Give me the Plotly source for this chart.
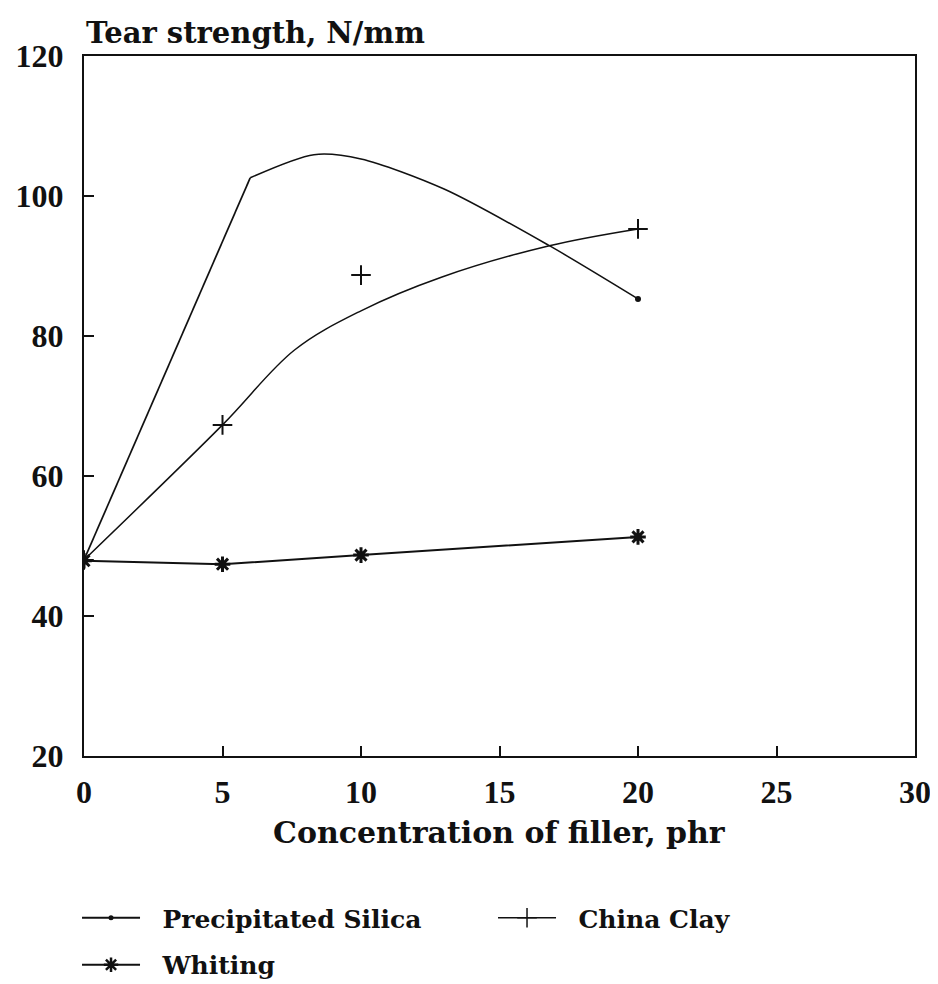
import plotly.graph_objects as go

# Precipitated silica curve (knots)
silica_x = [0, 6.0, 8.3, 10, 13, 16.8, 20]
silica_y = [48.0, 102.6, 105.9, 105.3, 101.0, 92.9, 85.3]
silica_pts_x = [0, 20]
silica_pts_y = [48.0, 85.3]

# China clay measured points and fitted curve
clay_x = [0, 5, 10, 20]
clay_y = [48.0, 67.3, 88.7, 95.3]
clay_fit_x = [0, 5, 7.6, 10, 12.9, 16.8, 20]
clay_fit_y = [48.0, 67.3, 78.0, 83.6, 88.4, 92.9, 95.3]

# Whiting
whiting_x = [0, 5, 10, 20]
whiting_y = [47.9, 47.4, 48.7, 51.3]

FONT = "DejaVu Serif"
TICK_FONT = "Liberation Serif"
BLACK = "#111111"
PAD = "\u00a0\u00a0"  # small gap between legend symbol and label

fig = go.Figure()

# straight rise, then the smooth part of the silica curve
fig.add_trace(go.Scatter(
    x=silica_x[:2], y=silica_y[:2], mode='lines',
    line=dict(color=BLACK, width=1.7),
    showlegend=False, hoverinfo='skip'
))
fig.add_trace(go.Scatter(
    x=silica_x[1:], y=silica_y[1:], mode='lines',
    line=dict(color=BLACK, width=1.5, shape='spline', smoothing=0.8),
    showlegend=False, hoverinfo='skip'
))
fig.add_trace(go.Scatter(
    x=silica_pts_x, y=silica_pts_y, mode='markers',
    marker=dict(color=BLACK, size=6, symbol='circle'),
    showlegend=False
))
fig.add_trace(go.Scatter(
    x=clay_fit_x, y=clay_fit_y, mode='lines',
    line=dict(color=BLACK, width=1.5, shape='spline', smoothing=1.0),
    showlegend=False, hoverinfo='skip'
))
fig.add_trace(go.Scatter(
    x=clay_x, y=clay_y, mode='markers',
    marker=dict(color=BLACK, size=14, symbol='cross-thin-open',
                line=dict(color=BLACK, width=2)),
    showlegend=False
))
fig.add_trace(go.Scatter(
    x=whiting_x, y=whiting_y, mode='lines+markers',
    line=dict(color=BLACK, width=2),
    marker=dict(color=BLACK, size=13, symbol='asterisk-open',
                line=dict(color=BLACK, width=3)),
    showlegend=False
))

# legend entries
fig.add_trace(go.Scatter(
    x=[None], y=[None], mode='lines+markers', name=PAD + 'Precipitated Silica',
    line=dict(color=BLACK, width=2),
    marker=dict(color=BLACK, size=5, symbol='circle'),
    legend='legend'
))
fig.add_trace(go.Scatter(
    x=[None], y=[None], mode='lines+markers', name=PAD + 'China Clay',
    line=dict(color=BLACK, width=1.5),
    marker=dict(color=BLACK, size=14, symbol='cross-thin-open',
                line=dict(color=BLACK, width=1.5)),
    legend='legend'
))
fig.add_trace(go.Scatter(
    x=[None], y=[None], mode='lines+markers', name=PAD + 'Whiting',
    line=dict(color=BLACK, width=2),
    marker=dict(color=BLACK, size=12, symbol='asterisk-open',
                line=dict(color=BLACK, width=2.5)),
    legend='legend2'
))

axis_common = dict(
    showline=True, linecolor=BLACK, linewidth=2, mirror=True,
    ticks='inside', ticklen=10, tickwidth=1.5, tickcolor=BLACK,
    showgrid=False, zeroline=False, automargin=False,
    tickfont=dict(family=TICK_FONT, size=32, color=BLACK, weight='bold'),
)

fig.update_xaxes(range=[0, 30], dtick=5, ticklabelstandoff=7, **axis_common)
fig.update_yaxes(range=[20, 120], dtick=20, ticklabelstandoff=12, **axis_common)

fig.add_annotation(
    text="Tear strength, N/mm", xref='paper', yref='paper',
    x=0, y=1.0, xanchor='left', yanchor='bottom', yshift=4, showarrow=False,
    font=dict(family=FONT, size=29, color=BLACK, weight='bold')
)
fig.add_annotation(
    text="Concentration of filler, phr", xref='paper', yref='paper',
    x=0.5, y=-0.1086, xanchor='center', yanchor='middle', showarrow=False,
    font=dict(family=FONT, size=30, color=BLACK, weight='bold')
)

legend_font = dict(family=FONT, size=25, color=BLACK, weight='bold')
fig.update_layout(
    width=932, height=977,
    plot_bgcolor='white', paper_bgcolor='white',
    margin=dict(l=76, r=25, t=48, b=229, autoexpand=False),
    legend=dict(orientation='h', x=-0.0084, y=-0.1986, xanchor='left', yanchor='top',
                entrywidth=343, entrywidthmode='pixels', itemwidth=58,
                font=legend_font, bgcolor='rgba(0,0,0,0)'),
    legend2=dict(orientation='h', x=-0.0084, y=-0.2657, xanchor='left', yanchor='top',
                 itemwidth=58, font=legend_font, bgcolor='rgba(0,0,0,0)'),
)

fig.write_html("out.html")
